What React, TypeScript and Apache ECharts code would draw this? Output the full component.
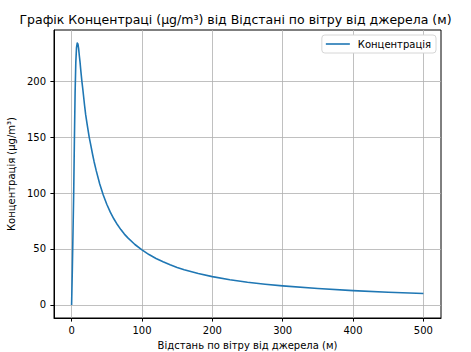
import React, { useEffect, useRef } from "react";
import * as echarts from "echarts";

const distances = [0, 1, 2, 3, 4, 5, 6, 7, 8, 9, 10, 11, 12, 13, 14.6, 16, 18.5, 20, 22, 25, 27, 30, 32, 35, 40, 45, 50, 55, 60, 65, 70, 75, 80, 90, 100, 110, 120, 130, 140, 150, 160, 180, 200, 225, 250, 275, 300, 350, 400, 450, 500];
const concentrations = [0, 30, 65, 100, 148, 190, 217, 230, 234, 233.2, 229, 222.7, 217, 210, 200, 192.5, 178, 170, 161.8, 150, 143.7, 134, 128, 120, 108, 98.2, 90, 82.9, 77, 71.8, 67.3, 63.3, 59.9, 54, 49.2, 45, 41.5, 38.5, 35.8, 33.5, 31.4, 28, 25.3, 22.5, 20.3, 18.5, 17, 14.6, 12.78, 11.37, 10.24];
const xTicks = [0, 100, 200, 300, 400, 500];
const yTicks = [0, 50, 100, 150, 200];

const FONT = "DejaVu Sans";

export default function App() {
  const ref = useRef<HTMLDivElement>(null);
  useEffect(() => {
    if (!ref.current) return;
    const chart = echarts.init(ref.current, undefined, { renderer: "svg" });
    const data = distances.map((d, i) => [d, concentrations[i]]);
    chart.setOption({
      animation: false,
      backgroundColor: "#ffffff",
      title: {
        text: "Графік Концентраці (μg/m³) від Відстані по вітру від джерела (м)",
        left: "center",
        top: 8,
        textStyle: { fontFamily: FONT, fontSize: 12.5, fontWeight: "normal", color: "#000" },
      },
      legend: {
        right: 35,
        top: 35,
        icon: "rect",
        itemWidth: 24,
        itemHeight: 1.6,
        padding: [4, 5, 4, 4],
        backgroundColor: "#ffffff",
        borderColor: "#d6d6d6",
        borderWidth: 1,
        borderRadius: 3,
        textStyle: { fontFamily: FONT, fontSize: 10, color: "#000", padding: [0, 0, 0, 3] },
        data: ["Концентрація"],
      },
      grid: {
        left: 54,
        top: 30,
        width: 387,
        height: 288,
        show: true,
        borderColor: "#000",
        borderWidth: 1,
        backgroundColor: "transparent",
        containLabel: false,
        outerBoundsMode: "none",
      },
      xAxis: {
        type: "value",
        min: -25,
        max: 525,
        name: "Відстань по вітру від джерела (м)",
        nameLocation: "middle",
        nameGap: 22,
        nameTextStyle: { fontFamily: FONT, fontSize: 10, color: "#000" },
        axisLine: { show: true, onZero: false, lineStyle: { color: "#000", width: 1 } },
        axisTick: { show: true, inside: false, length: 3.6, lineStyle: { color: "#000" }, customValues: xTicks },
        axisLabel: { customValues: xTicks, margin: 7, fontFamily: FONT, fontSize: 10, color: "#000" },
        splitLine: { show: true, lineStyle: { color: "#b0b0b0", width: 0.8 } },
      },
      yAxis: {
        type: "value",
        min: -11.7,
        max: 245.7,
        name: "Концентрація (μg/m³)",
        nameLocation: "middle",
        nameGap: 35,
        nameTextStyle: { fontFamily: FONT, fontSize: 10, color: "#000" },
        axisLine: { show: true, onZero: false, lineStyle: { color: "#000", width: 1 } },
        axisTick: { show: true, inside: false, length: 3.6, lineStyle: { color: "#000" }, customValues: yTicks },
        axisLabel: { customValues: yTicks, margin: 8, fontFamily: FONT, fontSize: 10, color: "#000" },
        splitLine: { show: true, lineStyle: { color: "#b0b0b0", width: 0.8 } },
      },
      series: [
        {
          name: "Концентрація",
          type: "line",
          data,
          showSymbol: false,
          smooth: false,
          lineStyle: { color: "#1f77b4", width: 1.6, join: "round" },
          itemStyle: { color: "#1f77b4" },
        },
      ],
    });
    return () => chart.dispose();
  }, []);
  return <div ref={ref} style={{ width: 471, height: 352, position: "absolute", left: 0, top: 0 }} />;
}
